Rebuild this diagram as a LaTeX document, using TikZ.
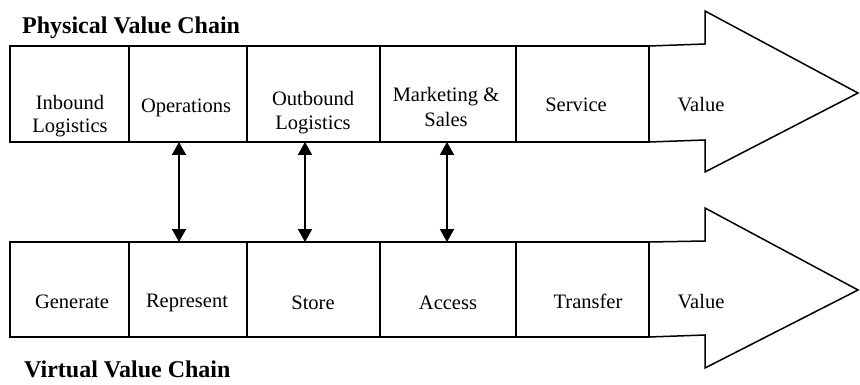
\documentclass[tikz,border=0pt]{standalone}
\usepackage{fontspec}
\setmainfont{Liberation Serif}
\usetikzlibrary{arrows.meta}
\begin{document}
\begin{tikzpicture}[x=1pt,y=-1pt,
  cell/.style={draw,line width=1.5pt,rectangle,inner sep=0pt,outer sep=0pt,minimum height=#1},
  lbl/.style={inner sep=0pt,anchor=base,font=\fontsize{20.5}{23.5}\selectfont},
  title/.style={inner sep=0pt,anchor=base west,font=\fontsize{24}{28}\selectfont\bfseries},
  bigarrow/.style={draw,line width=1.5pt,line join=miter},
  link/.style={line width=2pt,{Triangle[width=14pt,length=13pt]}-{Triangle[width=14pt,length=13pt]}}
]
\fill[white] (0,0) rectangle (860,385);
\useasboundingbox (0,0) rectangle (860,385);

% Physical chain
\node[cell=96pt,minimum width=119pt] (p1) at (69.5,94) {};
\node[cell=96pt,minimum width=118pt] (p2) at (188,94) {};
\node[cell=96pt,minimum width=133pt] (p3) at (313.5,94) {};
\node[cell=96pt,minimum width=136pt] (p4) at (448,94) {};
\node[cell=96pt,minimum width=133pt] (p5) at (582.5,94) {};
\draw[bigarrow] (p5.north east) -- (705,44) -- (705,11) -- (858,93) -- (705,172) -- (705,140) -- (p5.south east);

\node[lbl] (p1a) at (70,110) {Inbound};
\node[lbl] (p1b) at (70,133) {Logistics};
\node[lbl] (p2t) at (186,113) {Operations};
\node[lbl] (p3a) at (313,106) {Outbound};
\node[lbl] (p3b) at (313,130) {Logistics};
\node[lbl] (p4a) at (446,102) {Marketing \&};
\node[lbl] (p4b) at (446,127) {Sales};
\node[lbl] (p5t) at (576,112) {Service};
\node[lbl] (pv) at (701,112) {Value};

% Virtual chain
\node[cell=95pt,minimum width=119pt] (v1) at (69.5,289.5) {};
\node[cell=95pt,minimum width=118pt] (v2) at (188,289.5) {};
\node[cell=95pt,minimum width=133pt] (v3) at (313.5,289.5) {};
\node[cell=95pt,minimum width=136pt] (v4) at (448,289.5) {};
\node[cell=95pt,minimum width=133pt] (v5) at (582.5,289.5) {};
\draw[bigarrow] (v5.north east) -- (705,241) -- (705,208) -- (858,290) -- (705,368) -- (705,335) -- (v5.south east);

\node[lbl] (v1t) at (72,308) {Generate};
\node[lbl] (v2t) at (187,307) {Represent};
\node[lbl] (v3t) at (313,309) {Store};
\node[lbl] (v4t) at (448,309) {Access};
\node[lbl] (v5t) at (588,308) {Transfer};
\node[lbl] (vv) at (701,308) {Value};

% Links
\draw[link] ([xshift=-9pt]p2.south) -- ([xshift=-9pt]v2.north);
\draw[link] ([xshift=-8.5pt]p3.south) -- ([xshift=-8.5pt]v3.north);
\draw[link] ([xshift=-1pt]p4.south) -- ([xshift=-1pt]v4.north);

% Titles
\node[title] (pt) at (22,34) {Physical Value Chain};
\node[title] (vt) at (24,377) {Virtual Value Chain};
\end{tikzpicture}
\end{document}
